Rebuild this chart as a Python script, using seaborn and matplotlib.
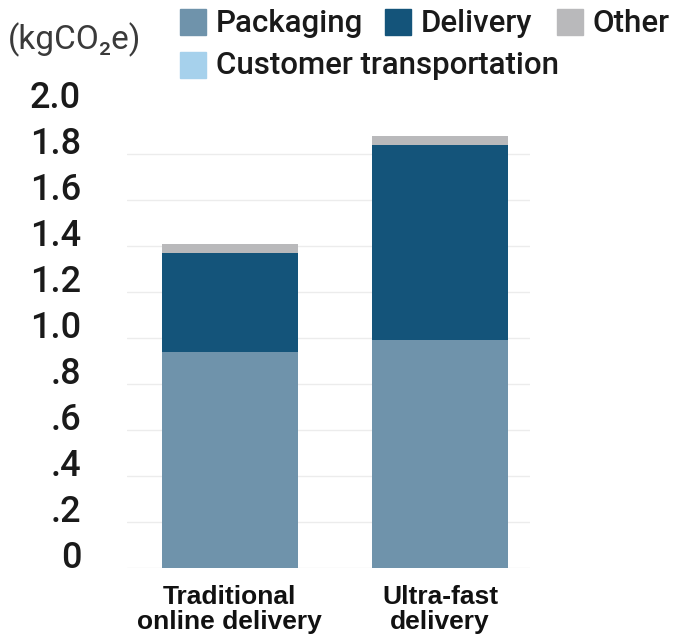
import matplotlib
matplotlib.use("Agg")
import matplotlib.pyplot as plt
import matplotlib.transforms as mtransforms
from matplotlib.patches import Rectangle
import seaborn as sns
import pandas as pd
import numpy as np

# ---- data ----
categories = ["Traditional\nonline delivery", "Ultra-fast\ndelivery"]
packaging = [0.94, 0.99]
delivery = [0.43, 0.85]
other = [0.04, 0.04]
customer_transportation = [0.0, 0.0]
series_names = ["Packaging", "Delivery", "Other", "Customer transportation"]
ytick_values = [0.0, 0.2, 0.4, 0.6, 0.8, 1.0, 1.2, 1.4, 1.6, 1.8, 2.0]
ytick_labels = ["0", ".2", ".4", ".6", ".8", "1.0", "1.2", "1.4", "1.6", "1.8", "2.0"]
unit_label = "(kgCO\u2082e)"

colors = {
    "Packaging": "#6f93ab",
    "Delivery": "#14547a",
    "Other": "#b9b9bb",
    "Customer transportation": "#a6d1ec",
}

sns.set_theme(style="white")
plt.rcParams["font.family"] = ["Roboto", "DejaVu Sans"]

fig = plt.figure(figsize=(6.77, 6.42), dpi=100)
ax = fig.add_axes([127 / 677, 1 - 568 / 642, (530 - 127) / 677, 460 / 642])

df = pd.DataFrame({
    "category": categories,
    "Packaging": packaging,
    "Delivery": delivery,
    "Other": other,
    "Customer transportation": customer_transportation,
})
# stacked cumulative values (bottom -> top)
stack_order = ["Packaging", "Delivery", "Other", "Customer transportation"]
cum = df[stack_order].cumsum(axis=1)

# gridlines
for v in ytick_values[:-1]:
    ax.axhline(v, color="#ececec", lw=1.0, zorder=0)

# draw from the top-most cumulative down so lower segments cover upper ones
for name in reversed(stack_order):
    sns.barplot(x=df["category"], y=cum[name], color=colors[name],
                width=0.647, saturation=1, ax=ax, zorder=2, linewidth=0)

ax.set_xlim(-0.488, 1.428)
ax.set_ylim(0, 2.0)
for s in ax.spines.values():
    s.set_visible(False)
ax.grid(False)
ax.set_xlabel("")
ax.set_ylabel("")

ax.set_yticks(ytick_values)
ax.set_yticklabels(ytick_labels, fontsize=26, color="#1a1a1a", fontweight="medium")
ax.tick_params(axis="y", length=0, pad=33)
offset = mtransforms.ScaledTranslation(0, 0.14, fig.dpi_scale_trans)
for lab in ax.get_yticklabels():
    lab.set_transform(lab.get_transform() + offset)

ax.set_xticks([0, 1])
ax.set_xticklabels(categories, fontsize=19, fontweight="bold",
                   family=["Liberation Sans", "DejaVu Sans"], color="#111111",
                   linespacing=1.05)
ax.tick_params(axis="x", length=0, pad=12)

# unit label
fig.text(8 / 677, 1 - 40 / 642, unit_label, fontsize=24, color="#3a3a3a",
         va="center", ha="left", fontweight="normal")

# manual legend
W, H = 677, 642
legend_items = [
    ("Packaging", 180, 22),
    ("Delivery", 385, 22),
    ("Other", 557, 22),
    ("Customer transportation", 180, 65),
]
for name, x0, yc in legend_items:
    sq = 26
    fig.patches.append(Rectangle((x0 / W, 1 - (yc + sq / 2) / H), sq / W, sq / H,
                                 transform=fig.transFigure, color=colors[name]))
    fig.text((x0 + sq + 10) / W, 1 - (yc + 1) / H, name, fontsize=22.5, color="#1a1a1a",
             va="center", ha="left", fontweight="medium")

fig.savefig("out.png", dpi=100, facecolor="white")
